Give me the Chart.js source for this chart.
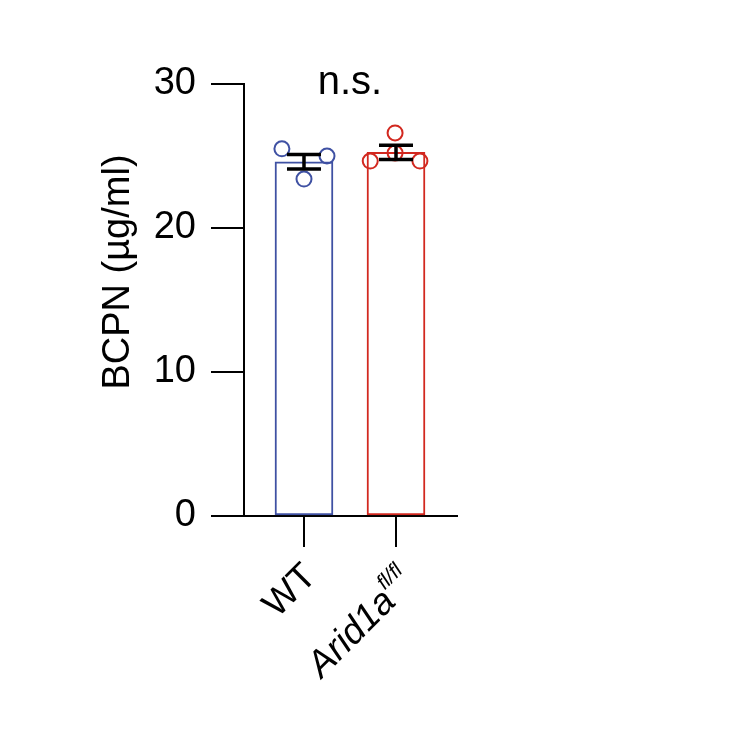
<!DOCTYPE html>
<html>
<head>
<meta charset="utf-8">
<script src="https://cdn.jsdelivr.net/npm/chart.js@4/dist/chart.umd.min.js"></script>
<style>
  html, body { margin: 0; padding: 0; background: #fff; }
  #wrap { width: 743px; height: 735px; }
</style>
</head>
<body>
<div id="wrap"><canvas id="c" width="743" height="735"></canvas></div>
<script>
// group data
var categories = ['WT', 'Arid1a'];
var superscripts = ['', 'fl/fl'];
var means = [24.6, 25.25];
var sems = [0.5, 0.5];
var colors = ['#3f51a3', '#d2281f'];

// individual points (x offset from group centre, in category units)
var wtOffsets = [-0.24, 0.25, 0.0];
var wtValues = [25.5, 25.0, 23.4];
var aridOffsets = [-0.28, 0.26, -0.01, -0.01];
var aridValues = [24.65, 24.65, 26.6, 25.2];

var yTicks = [0, 10, 20, 30];
var yTitle = 'BCPN (µg/ml)';
var sigText = 'n.s.';

var FONT = "'Liberation Sans', Arial, sans-serif";

function pts(group, offsets, values) {
    return values.map(function(v, i) { return { x: group + offsets[i], y: v }; });
}

var extras = {
    id: 'extras',
    afterDatasetsDraw: function(chart) {
        var ctx = chart.ctx;
        var xs = chart.scales.x, ys = chart.scales.y;
        ctx.save();
        // error bars
        ctx.strokeStyle = '#000';
        ctx.lineWidth = 3.5;
        for (var i = 0; i < means.length; i++) {
            var px = xs.getPixelForValue(i + 1);
            var top = ys.getPixelForValue(means[i] + sems[i]);
            var bot = ys.getPixelForValue(means[i] - sems[i]);
            ctx.beginPath();
            ctx.moveTo(px, top); ctx.lineTo(px, bot);
            ctx.moveTo(px - 17, top); ctx.lineTo(px + 17, top);
            ctx.moveTo(px - 17, bot); ctx.lineTo(px + 17, bot);
            ctx.stroke();
        }
        ctx.fillStyle = '#000';
        // significance label
        ctx.font = '40px ' + FONT;
        ctx.textAlign = 'center';
        ctx.textBaseline = 'alphabetic';
        ctx.fillText(sigText, (xs.getPixelForValue(1) + xs.getPixelForValue(2)) / 2, 94);
        // y title
        ctx.save();
        ctx.translate(129, 272);
        ctx.rotate(-Math.PI / 2);
        ctx.font = '38px ' + FONT;
        ctx.fillText(yTitle, 0, 0);
        ctx.restore();
        // x labels, rotated 45 degrees, right end under the tick
        var rise = 18;
        for (var j = 0; j < categories.length; j++) {
            var tx = xs.getPixelForValue(j + 1);
            var mainFont = (j === 0 ? '' : 'italic ') + '37px ' + FONT;
            var supFont = 'italic 21px ' + FONT;
            ctx.font = mainFont;
            var wMain = ctx.measureText(categories[j]).width;
            ctx.font = supFont;
            var wSup = superscripts[j] ? ctx.measureText(superscripts[j]).width : 0;
            var drop = wSup ? rise / 2 : 0;
            ctx.save();
            ctx.translate(tx + 14, xs.top + 62);
            ctx.rotate(-Math.PI / 4);
            ctx.textAlign = 'left';
            ctx.font = mainFont;
            ctx.fillText(categories[j], -(wMain + wSup), drop);
            if (wSup) {
                ctx.font = supFont;
                ctx.fillText(superscripts[j], -wSup, drop - rise);
            }
            ctx.restore();
        }
        ctx.restore();
    }
};

new Chart(document.getElementById('c'), {
    type: 'bar',
    data: {
        datasets: [
            {
                type: 'scatter',
                data: pts(1, wtOffsets, wtValues),
                borderColor: colors[0],
                backgroundColor: 'rgba(255,255,255,0)',
                pointRadius: 7.5,
                borderWidth: 2,
                order: 1
            },
            {
                type: 'scatter',
                data: pts(2, aridOffsets, aridValues),
                borderColor: colors[1],
                backgroundColor: 'rgba(255,255,255,0)',
                pointRadius: 7.5,
                borderWidth: 2,
                order: 1
            },
            {
                type: 'bar',
                data: means.map(function(m, i) { return { x: i + 1, y: m }; }),
                borderColor: colors,
                backgroundColor: '#fff',
                borderWidth: 2,
                borderSkipped: false,
                barThickness: 58,
                order: 2
            }
        ]
    },
    options: {
        responsive: false,
        animation: false,
        layout: { padding: { left: 0, right: 286, top: 84, bottom: 0 } },
        plugins: { legend: { display: false }, tooltip: { enabled: false } },
        scales: {
            x: {
                type: 'linear',
                min: 0.348,
                max: 2.663,
                offset: false,
                afterBuildTicks: function(scale) {
                    scale.ticks = categories.map(function(c, i) { return { value: i + 1 }; });
                },
                afterFit: function(scale) { scale.height = 735 - 516; },
                ticks: { display: false },
                grid: { offset: false, drawOnChartArea: false, tickLength: 31, color: '#000', lineWidth: 2 },
                border: { display: true, color: '#000', width: 2 }
            },
            y: {
                min: 0,
                max: 30,
                afterBuildTicks: function(scale) {
                    scale.ticks = yTicks.map(function(v) { return { value: v }; });
                },
                afterFit: function(scale) { scale.width = 244; },
                ticks: { color: '#000', font: { family: FONT, size: 38 }, padding: 15 },
                grid: { drawOnChartArea: false, tickLength: 33, color: '#000', lineWidth: 2 },
                border: { display: true, color: '#000', width: 2 }
            }
        }
    },
    plugins: [extras]
});
</script>
</body>
</html>
